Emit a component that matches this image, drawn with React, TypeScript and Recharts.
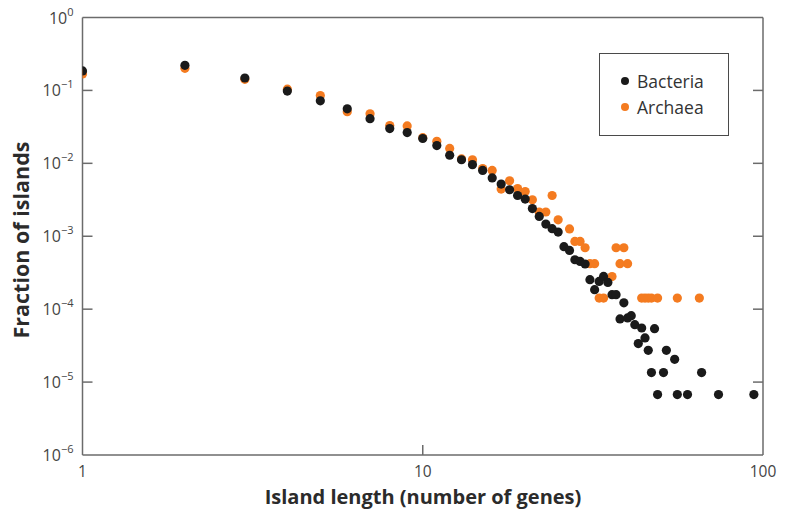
import React from 'react';
import { ScatterChart, Scatter, XAxis, YAxis, Legend } from 'recharts';

const bacteriaX = [1, 2, 3, 4, 5, 6, 7, 8, 9, 10, 11, 12, 13, 14, 15, 16, 17, 18, 19, 20, 21, 22, 23, 24, 25, 26, 27, 28, 29, 30, 31, 32, 33, 34, 35, 36, 37, 38, 39, 40, 41, 42, 43, 44, 45, 46, 47, 48, 49, 51, 52, 55, 56, 60, 66, 74, 94];
const bacteriaY = [0.185, 0.221, 0.148, 0.098, 0.072, 0.056, 0.041, 0.030, 0.0264, 0.0219, 0.0175, 0.0129, 0.0112, 0.0096, 0.0080, 0.0063, 0.0052, 0.00434, 0.00362, 0.00323, 0.0024, 0.00187, 0.00147, 0.00127, 0.00114, 0.00072, 0.00064, 0.000476, 0.000452, 0.000416, 0.000254, 0.000185, 0.00024, 0.000281, 0.000233, 0.000158, 0.000158, 0.0000734, 0.000122, 0.0000758, 0.0000815, 0.0000613, 0.0000337, 0.0000552, 0.0000403, 0.0000273, 0.0000135, 0.000054, 0.00000675, 0.0000135, 0.0000273, 0.0000205, 0.00000675, 0.00000675, 0.0000135, 0.00000675, 0.00000675];

const archaeaX = [1, 2, 3, 4, 5, 6, 7, 8, 9, 10, 11, 12, 13, 14, 15, 16, 17, 18, 19, 20, 21, 22, 23, 24, 25, 27, 28, 29, 30, 31, 32, 33, 34, 36, 37, 38, 39, 40, 44, 45, 46, 47, 49, 56, 65];
const archaeaY = [0.168, 0.201, 0.142, 0.104, 0.085, 0.051, 0.0477, 0.033, 0.0326, 0.0225, 0.0201, 0.016, 0.0115, 0.0112, 0.0085, 0.008, 0.00443, 0.00576, 0.00452, 0.00411, 0.00316, 0.00215, 0.00215, 0.00362, 0.00168, 0.00126, 0.00085, 0.00085, 0.000696, 0.00042, 0.00042, 0.000142, 0.000142, 0.00028, 0.000696, 0.00042, 0.000696, 0.00042, 0.000142, 0.000142, 0.000142, 0.000142, 0.000142, 0.000142, 0.000142];

const xTicks = [1, 10, 100];
const yTicks = [1e-6, 1e-5, 1e-4, 1e-3, 1e-2, 1e-1, 1];
const yExponents = ['\u22126', '\u22125', '\u22124', '\u22123', '\u22122', '\u22121', '0'];

const seriesNames = ['Bacteria', 'Archaea'];
const seriesColors = ['#1a1a1a', '#f47b20'];

const bacteria = bacteriaX.map((x, i) => ({ x, y: bacteriaY[i] }));
const archaea = archaeaX.map((x, i) => ({ x, y: archaeaY[i] }));

const FONT = '"Open Sans", "Noto Sans", sans-serif';
const AXIS_COLOR = '#6b6b6b';
const TICK_LEN = 10;

const BottomTick = (props: any) => {
  const { x, y, payload } = props;
  const v = payload.value;
  return (
    <g>
      {v !== 1 && v !== 100 && (
        <line x1={x} y1={y} x2={x} y2={y - TICK_LEN} stroke={AXIS_COLOR} strokeWidth={1.5} />
      )}
      <text x={x} y={y + 22} textAnchor="middle" fontSize={15.5} fill="#444" fontFamily={FONT}>
        {v}
      </text>
    </g>
  );
};

const TopTick = (props: any) => {
  const { x, y, payload } = props;
  const v = payload.value;
  if (v === 1 || v === 100) return <g />;
  return <line x1={x} y1={y} x2={x} y2={y + TICK_LEN} stroke={AXIS_COLOR} strokeWidth={1.5} />;
};

const LeftTick = (props: any) => {
  const { x, y, payload, index } = props;
  const v = payload.value;
  const idx = yTicks.indexOf(v);
  const exp = yExponents[idx >= 0 ? idx : index];
  return (
    <g>
      {v !== 1 && v !== 1e-6 && (
        <line x1={x} y1={y} x2={x + TICK_LEN} y2={y} stroke={AXIS_COLOR} strokeWidth={1.5} />
      )}
      <text x={x - 9} y={y + 6} textAnchor="end" fill="#444" fontFamily={FONT}>
        <tspan fontSize={16}>10</tspan>
        <tspan fontSize={11} dy={-8}>{exp}</tspan>
      </text>
    </g>
  );
};

const RightTick = (props: any) => {
  const { x, y, payload } = props;
  const v = payload.value;
  if (v === 1 || v === 1e-6) return <g />;
  return <line x1={x} y1={y} x2={x - TICK_LEN} y2={y} stroke={AXIS_COLOR} strokeWidth={1.5} />;
};

const Dot = (color: string) => (props: any) => (
  <circle cx={props.cx} cy={props.cy} r={4.6} fill={color} />
);

const LegendBox = () => (
  <div
    style={{
      width: 130,
      height: 83,
      border: '1.5px solid #4a4a4a',
      background: '#fff',
      fontFamily: FONT,
      fontSize: 17.5,
      color: '#333',
      paddingTop: 14,
      boxSizing: 'border-box',
    }}
  >
    {seriesNames.map((name, i) => (
      <div key={name} style={{ display: 'flex', alignItems: 'center', height: 26, paddingLeft: 21 }}>
        <span
          style={{
            display: 'inline-block',
            width: 8,
            height: 8,
            borderRadius: 4,
            background: seriesColors[i],
            marginRight: 8,
          }}
        />
        <span>{name}</span>
      </div>
    ))}
  </div>
);

const axisLineStyle = { stroke: AXIS_COLOR, strokeWidth: 1.5 };

export default function App() {
  return (
    <div style={{ position: 'absolute', left: 0, top: 0, width: 785, height: 521, background: '#fff' }}>
      <ScatterChart width={785} height={521} margin={{ top: 16.5, right: 21, bottom: 65, left: 81.5 }}>
        <XAxis
          dataKey="x"
          type="number"
          scale="log"
          domain={[1, 100]}
          ticks={xTicks}
          interval={0}
          allowDataOverflow
          height={1}
          tickSize={0}
          tickMargin={0}
          tickLine={false}
          axisLine={axisLineStyle}
          tick={<BottomTick />}
        />
        <XAxis
          xAxisId="top"
          orientation="top"
          type="number"
          scale="log"
          domain={[1, 100]}
          ticks={xTicks}
          interval={0}
          allowDataOverflow
          height={1}
          tickSize={0}
          tickMargin={0}
          tickLine={false}
          axisLine={axisLineStyle}
          tick={<TopTick />}
        />
        <YAxis
          dataKey="y"
          type="number"
          scale="log"
          domain={[1e-6, 1]}
          ticks={yTicks}
          interval={0}
          allowDataOverflow
          width={1}
          tickSize={0}
          tickMargin={0}
          tickLine={false}
          axisLine={axisLineStyle}
          tick={<LeftTick />}
        />
        <YAxis
          yAxisId="right"
          orientation="right"
          type="number"
          scale="log"
          domain={[1e-6, 1]}
          ticks={yTicks}
          interval={0}
          allowDataOverflow
          width={1}
          tickSize={0}
          tickMargin={0}
          tickLine={false}
          axisLine={axisLineStyle}
          tick={<RightTick />}
        />
        <Legend
          layout="horizontal"
          verticalAlign="middle"
          align="center"
          content={<LegendBox />}
          wrapperStyle={{ position: 'absolute', left: 599, top: 53, width: 130, height: 83 }}
        />
        <Scatter name={seriesNames[1]} data={archaea} fill={seriesColors[1]} shape={Dot(seriesColors[1])} isAnimationActive={false} />
        <Scatter name={seriesNames[0]} data={bacteria} fill={seriesColors[0]} shape={Dot(seriesColors[0])} isAnimationActive={false} />
        <text x={423} y={504} textAnchor="middle" fontSize={20} fontWeight={700} fill="#2b2b2b" fontFamily={FONT}>
          Island length (number of genes)
        </text>
        <text
          x={0}
          y={0}
          transform="translate(29, 240) rotate(-90)"
          textAnchor="middle"
          fontSize={21.5}
          fontWeight={700}
          fill="#2b2b2b"
          fontFamily={FONT}
        >
          Fraction of islands
        </text>
      </ScatterChart>
    </div>
  );
}
